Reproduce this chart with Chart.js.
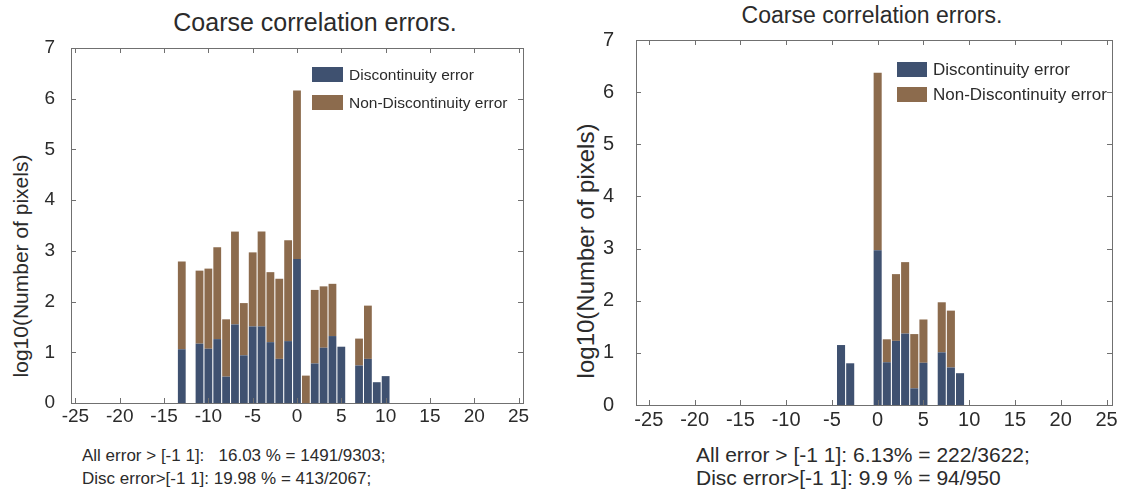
<!DOCTYPE html>
<html>
<head>
<meta charset="utf-8">
<script src="https://cdn.jsdelivr.net/npm/chart.js@4.4.1/dist/chart.umd.min.js"></script>
<style>
  body { margin:0; width:1135px; height:497px; background:#fff; position:relative; overflow:hidden;
         font-family:"Liberation Sans", Arial, sans-serif; color:#2b2b2b; }
  canvas { position:absolute; top:0; }
  .title, .note, .ytitle, .legend { position:absolute; white-space:pre; }
  .title { transform:translate(-50%,-50%); }
  .ytitle { transform:translate(-50%,-50%) rotate(-90deg); }
  .legend .row { display:flex; align-items:center; }
  .legend .sw { display:inline-block; }
</style>
</head>
<body>

<div class="title" style="left:315px;top:22px;font-size:25px">Coarse correlation errors.</div>
<div class="title" style="left:872px;top:15px;font-size:23px">Coarse correlation errors.</div>

<div class="ytitle" style="left:21px;top:266px;font-size:21px">log10(Number of pixels)</div>
<div class="ytitle" style="left:586px;top:251px;font-size:24px">log10(Number of pixels)</div>

<canvas id="chartLeft" width="560" height="440" style="left:0;width:560px;height:440px"></canvas>
<canvas id="chartRight" width="560" height="440" style="left:575px;width:560px;height:440px"></canvas>

<div id="legendLeft" class="legend" style="left:312px;top:67px;font-size:15.5px"></div>
<div id="legendRight" class="legend" style="left:897px;top:62px;font-size:17px"></div>

<div class="note" style="left:82px;top:444px;font-size:17px;line-height:23px">All error &gt; [-1 1]:   16.03 % = 1491/9303;
Disc error&gt;[-1 1]: 19.98 % = 413/2067;</div>
<div class="note" style="left:696px;top:443px;font-size:21px;line-height:23px">All error &gt; [-1 1]: 6.13% = 222/3622;
Disc error&gt;[-1 1]: 9.9 % = 94/950</div>

<script>
// log10 pixel counts per error bin; total = both kinds stacked
const binsLeft  = [-13, -11, -10, -9, -8, -7, -6, -5, -4, -3, -2, -1, 0, 1, 2, 3, 4, 5, 7, 8, 9, 10];
const discLeft  = [1.06, 1.17, 1.07, 1.26, 0.52, 1.55, 0.94, 1.51, 1.51, 1.20, 0.87, 1.22, 2.84, 0, 0.78, 1.09, 1.32, 1.11, 0.74, 0.87, 0.41, 0.53];
const totalLeft = [2.79, 2.61, 2.65, 3.07, 1.65, 3.38, 1.97, 2.97, 3.38, 2.58, 2.45, 3.21, 6.16, 0.54, 2.23, 2.30, 2.35, 1.11, 1.27, 1.92, 0.41, 0.53];

const binsRight  = [-4, -3, 0, 1, 2, 3, 4, 5, 7, 8, 9];
const discRight  = [1.15, 0.80, 2.97, 0.82, 1.23, 1.37, 0.32, 0.81, 1.01, 0.72, 0.61];
const totalRight = [1.15, 0.80, 6.37, 1.26, 2.51, 2.74, 1.36, 1.64, 1.97, 1.81, 0.61];

const seriesNames = ['Discontinuity error', 'Non-Discontinuity error'];
const seriesColors = ['#3f5170', '#8c6b4d'];
const yTicks = [0, 1, 2, 3, 4, 5, 6, 7];

// box around the axes with inward tick marks on all four sides
const boxFrame = {
  id: 'boxFrame',
  afterDatasetsDraw(chart) {
    const {ctx, chartArea: a, scales: {x, y}} = chart;
    ctx.save();
    ctx.strokeStyle = '#707070';
    ctx.lineWidth = 1;
    ctx.strokeRect(Math.round(a.left) + 0.5, Math.round(a.top) + 0.5,
                   Math.round(a.right - a.left), Math.round(a.bottom - a.top));
    ctx.beginPath();
    x.ticks.forEach(t => {
      const px = Math.round(x.getPixelForValue(t.value)) + 0.5;
      ctx.moveTo(px, a.bottom); ctx.lineTo(px, a.bottom - 5);
      ctx.moveTo(px, a.top); ctx.lineTo(px, a.top + 5);
    });
    y.ticks.forEach(t => {
      const py = Math.round(y.getPixelForValue(t.value)) + 0.5;
      ctx.moveTo(a.left, py); ctx.lineTo(a.left + 5, py);
      ctx.moveTo(a.right, py); ctx.lineTo(a.right - 5, py);
    });
    ctx.stroke();
    ctx.restore();
  }
};

function makeChart(id, bins, disc, total, o) {
  const datasets = [
    { label: seriesNames[0], data: bins.map((b, i) => ({x: b, y: disc[i]})), backgroundColor: seriesColors[0] },
    { label: seriesNames[1], data: bins.map((b, i) => ({x: b, y: +(total[i] - disc[i]).toFixed(2)})), backgroundColor: seriesColors[1] }
  ];
  return new Chart(document.getElementById(id), {
    type: 'bar',
    data: { datasets: datasets },
    options: {
      responsive: false,
      animation: false,
      layout: { padding: { top: o.top, right: o.right, bottom: 0, left: 0 } },
      datasets: { bar: { categoryPercentage: 1, barPercentage: 0.88, borderWidth: 0 } },
      plugins: { legend: { display: false }, title: { display: false }, tooltip: { enabled: false } },
      scales: {
        x: {
          type: 'linear', stacked: true, offset: false,
          min: o.xmin, max: o.xmax,
          grid: { display: false, offset: false, drawTicks: false },
          border: { display: false },
          afterFit: s => { s.height = o.xh; },
          ticks: { stepSize: 5, includeBounds: false, autoSkip: false, maxRotation: 0,
                   padding: o.xpad, color: '#2b2b2b',
                   font: { family: 'Liberation Sans', size: o.font } }
        },
        y: {
          stacked: true, min: 0, max: 7,
          grid: { display: false, drawTicks: false },
          border: { display: false },
          afterFit: s => { s.width = o.yw; },
          afterBuildTicks: s => { s.ticks = yTicks.map(v => ({value: v})); },
          ticks: { padding: o.ypad, color: '#2b2b2b',
                   font: { family: 'Liberation Sans', size: o.font } }
        }
      }
    },
    plugins: [boxFrame]
  });
}

function buildLegend(id, chart, gap, sw) {
  const el = document.getElementById(id);
  chart.data.datasets.forEach((ds, i) => {
    const row = document.createElement('div');
    row.className = 'row';
    row.style.height = '15px';
    row.style.marginBottom = (i === 0 ? gap : 0) + 'px';
    const box = document.createElement('span');
    box.className = 'sw';
    box.style.width = sw + 'px';
    box.style.height = '15px';
    box.style.background = ds.backgroundColor;
    box.style.marginRight = '6px';
    row.appendChild(box);
    row.appendChild(document.createTextNode(ds.label));
    el.appendChild(row);
  });
}

const left = makeChart('chartLeft', binsLeft, discLeft, totalLeft,
  { top: 48, right: 37, xh: 37, yw: 71, xmin: -25.5, xmax: 25.5, font: 19, xpad: 2, ypad: 16 });
const right = makeChart('chartRight', binsRight, discRight, totalRight,
  { top: 40, right: 23, xh: 35, yw: 61, xmin: -26.4, xmax: 25.6, font: 20, xpad: 3, ypad: 22 });

buildLegend('legendLeft', left, 13, 31);
buildLegend('legendRight', right, 10, 30);
</script>
</body>
</html>
